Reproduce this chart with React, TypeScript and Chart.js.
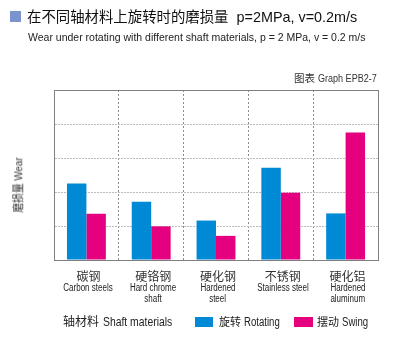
import React, { useEffect, useRef, useState } from "react";
import { Chart, registerables } from "chart.js";

Chart.register(...registerables);

const categoriesCn = ["碳钢", "硬铬钢", "硬化钢", "不锈钢", "硬化铝"];
const categoriesEn = [
  ["Carbon steels"],
  ["Hard chrome", "shaft"],
  ["Hardened", "steel"],
  ["Stainless steel"],
  ["Hardened", "aluminum"],
];
const rotating = [2.25, 1.71, 1.16, 2.71, 1.37];
const swing = [1.36, 0.99, 0.71, 1.98, 3.75];
const seriesCn = ["旋转", "摆动"];
const seriesEn = ["Rotating", "Swing"];
const yMin = 0;
const yMax = 5;

const titleCn = "在不同轴材料上旋转时的磨损量";
const titleParams = "p=2MPa, v=0.2m/s";
const subtitle = "Wear under rotating with different shaft materials, p = 2 MPa, v = 0.2 m/s";
const graphCn = "图表";
const graphEn = "Graph EPB2-7";
const yTitle = "磨损量 Wear";
const xTitleCn = "轴材料";
const xTitleEn = "Shaft materials";

const BLUE = "#0089d4";
const PINK = "#e4007f";
const FRAME = "#808080";
const SANS = '"Liberation Sans", Arial, "Noto Sans CJK SC", sans-serif';
const CJK = '"Noto Sans CJK SC", sans-serif';
const TEXT = "#222";

const framePlugin = {
  id: "frame",
  afterDraw(chart: any) {
    const { ctx, chartArea: a } = chart;
    const l = Math.round(a.left) + 0.5;
    const r = Math.round(a.right) + 0.5;
    const t = Math.round(a.top) + 0.5;
    const b = Math.round(a.bottom) + 0.5;
    ctx.save();
    ctx.strokeStyle = FRAME;
    ctx.lineWidth = 1;
    ctx.setLineDash([]);
    ctx.strokeRect(l, t, r - l, b - t);
    ctx.restore();
  },
};

const Sq = ({ s, origin = "left", children }: { s: number; origin?: string; children: React.ReactNode }) => (
  <span style={{ display: "inline-block", transform: `scaleX(${s})`, transformOrigin: origin }}>{children}</span>
);

export default function App() {
  const ref = useRef<HTMLCanvasElement | null>(null);
  const [ticks, setTicks] = useState<{ x: number; y: number }[]>([]);

  useEffect(() => {
    if (!ref.current) return;
    const chart = new Chart(ref.current, {
      type: "bar",
      data: {
        labels: categoriesCn,
        datasets: [
          { label: seriesEn[0], data: rotating, backgroundColor: BLUE, borderWidth: 0 },
          { label: seriesEn[1], data: swing, backgroundColor: PINK, borderWidth: 0 },
        ],
      },
      options: {
        animation: false,
        responsive: false,
        devicePixelRatio: 1,
        datasets: { bar: { categoryPercentage: 0.6, barPercentage: 1.0 } },
        layout: { padding: { left: 54, right: 22, top: 90, bottom: 100 } },
        plugins: { legend: { display: false }, tooltip: { enabled: false }, title: { display: false } },
        scales: {
          x: {
            grid: { display: true, offset: true, drawTicks: false, color: "#8c8c8c", lineWidth: 1 },
            border: { display: true, color: FRAME, dash: [2, 2] },
            ticks: { display: false },
          },
          y: {
            min: yMin,
            max: yMax,
            grid: { display: true, drawTicks: false, color: "#bdbdbd", lineWidth: 1 },
            border: { display: true, color: FRAME, dash: [2, 1] },
            ticks: { display: false, stepSize: 1 },
          },
        },
      },
      plugins: [framePlugin],
    });
    const xs = chart.scales.x;
    setTicks(categoriesCn.map((_, i) => ({ x: xs.getPixelForValue(i), y: chart.chartArea.bottom })));
    return () => chart.destroy();
  }, []);

  const abs = (s: React.CSSProperties): React.CSSProperties => ({ position: "absolute", whiteSpace: "nowrap", lineHeight: 1, color: TEXT, ...s });

  return (
    <div style={{ position: "absolute", left: 0, top: 0, width: 400, height: 360, background: "#fff", overflow: "hidden" }}>
      <canvas ref={ref} width={400} height={360} style={{ position: "absolute", left: 0, top: 0, width: 400, height: 360 }} />
      <div style={abs({ left: 10, top: 11, width: 11, height: 11, background: "#7b93cf" })} />
      <div style={abs({ left: 27, top: 17, transform: "translateY(-50%)", fontSize: 14.4, color: "#111" })}>
        <span style={{ fontFamily: CJK }}>{titleCn}</span>
        <span style={{ fontFamily: SANS, marginLeft: 8 }}>{titleParams}</span>
      </div>
      <div style={abs({ left: 28, top: 37, transform: "translateY(-50%)", fontFamily: SANS, fontSize: 10.5 })}>{subtitle}</div>
      <div style={abs({ left: 294, top: 78.5, transform: "translateY(-50%)", fontSize: 10.5, color: "#333" })}>
        <span style={{ fontFamily: CJK }}>{graphCn}</span>
        <span style={{ marginLeft: 3, fontFamily: SANS }}><Sq s={0.86}>{graphEn}</Sq></span>
      </div>
      <div style={abs({ left: 19, top: 185, transform: "translate(-50%,-50%) rotate(-90deg) scaleX(0.85)", fontFamily: SANS, fontSize: 11.5, color: "#333" })}>{yTitle}</div>
      {ticks.map((t, i) => (
        <div key={i} style={abs({ left: t.x + 2, top: t.y + 9, transform: "translateX(-50%)", textAlign: "center" })}>
          <div style={{ fontFamily: CJK, fontSize: 12, lineHeight: "13px", color: "#333" }}>{categoriesCn[i]}</div>
          {categoriesEn[i].map((l, j) => (
            <div key={j} style={{ fontFamily: SANS, fontSize: 10, lineHeight: "11px", color: "#222" }}>
              <Sq s={0.8} origin="center">{l}</Sq>
            </div>
          ))}
        </div>
      ))}
      <div style={abs({ left: 63, top: 321.5, transform: "translateY(-50%)", fontSize: 12.5 })}>
        <span style={{ fontFamily: CJK, fontSize: 12 }}>{xTitleCn}</span>
        <span style={{ fontFamily: SANS, marginLeft: 4 }}><Sq s={0.83}>{xTitleEn}</Sq></span>
      </div>
      <div style={abs({ left: 195, top: 317, width: 18, height: 10, background: BLUE })} />
      <div style={abs({ left: 219, top: 321.5, transform: "translateY(-50%)", fontSize: 12 })}>
        <span style={{ fontFamily: CJK, fontSize: 11 }}>{seriesCn[0]}</span>
        <span style={{ fontFamily: SANS, marginLeft: 3 }}><Sq s={0.8}>{seriesEn[0]}</Sq></span>
      </div>
      <div style={abs({ left: 294, top: 317, width: 19, height: 10, background: PINK })} />
      <div style={abs({ left: 317, top: 321.5, transform: "translateY(-50%)", fontSize: 12 })}>
        <span style={{ fontFamily: CJK, fontSize: 11 }}>{seriesCn[1]}</span>
        <span style={{ fontFamily: SANS, marginLeft: 3 }}><Sq s={0.8}>{seriesEn[1]}</Sq></span>
      </div>
    </div>
  );
}
